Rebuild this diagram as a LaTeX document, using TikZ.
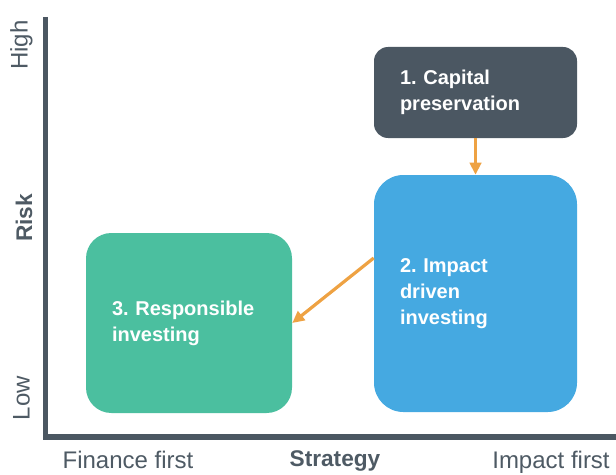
\documentclass[tikz,border=0pt]{standalone}
\usepackage{fontspec}
\setmainfont{Liberation Sans}
\usepackage{tikz}
\usetikzlibrary{calc}
\usetikzlibrary{arrows.meta}
\frenchspacing
\definecolor{slate}{HTML}{4B5762}
\definecolor{axtext}{HTML}{4E5A64}
\definecolor{skyblue}{HTML}{45A9E1}
\definecolor{seagreen}{HTML}{4BBF9F}
\definecolor{amber}{HTML}{EEA243}
\tikzset{%
  box/.style = {rectangle,inner xsep=19.5pt,align=left,text=white,
        font=\fontsize{15}{19.5}\selectfont\bfseries},
  flow/.style = {-{Triangle[length=9pt,width=8.5pt]},amber,line width=2.4pt},
  axis/.style = {slate,line width=3.8pt},
  lbl/.style = {text=axtext,inner sep=0pt,font=\fontsize{18}{22}\selectfont},
  blbl/.style = {text=axtext,inner sep=0pt,font=\fontsize{17}{20}\selectfont\bfseries}
}

\begin{document}
\begin{tikzpicture}[x=0.75pt,y=-0.75pt]
    \useasboundingbox (0,0) rectangle (616,474);
    % axes
    \coordinate (top) at (45.5,17);
    \coordinate (org) at (45.5,437);
    \coordinate (right) at (616,437);
    \draw[axis] (top) -- (org |- 0,439.5);
    \draw[axis] (org) -- (right);
    % axis labels
    \node[lbl,rotate=90] (high) at (21.5,45) {High};
    \node[blbl,rotate=90] (risk) at (24,218) {Risk};
    \node[lbl,rotate=90] (low) at (21.5,398) {Low};
    \node[lbl,anchor=base] (fin) at (128,468.5) {Finance first};
    \node[blbl,anchor=base] (strat) at (335,466) {Strategy};
    \node[lbl,anchor=base] (impf) at (551,468.5) {Impact first};
    % strategies
    \node[box,fill=slate,rounded corners=10.5pt,minimum width=152.25pt,
        minimum height=68.25pt,text width=113.25pt] (cap) at (475.5,92.5)
        {1. Capital\\preservation};
    \node[box,fill=skyblue,rounded corners=22pt,minimum width=152.25pt,
        minimum height=177.75pt,text width=113.25pt] (imp) at (475.5,293.5)
        {2. Impact\\driven\\investing};
    \node[box,fill=seagreen,rounded corners=19pt,minimum width=154.5pt,
        minimum height=135pt,text width=115.5pt] (res) at (189,323)
        {3. Responsible\\investing};
    % arrows
    \draw[flow] (cap) -- (imp);
    \draw[flow] ($(imp.west)+(0,-35.5)$) -- (res.east);
\end{tikzpicture}
\end{document}
